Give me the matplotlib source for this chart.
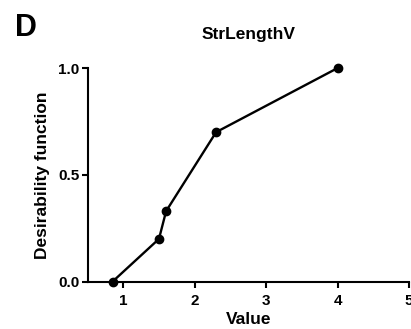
import matplotlib.pyplot as plt

plt.rcParams['font.family'] = ['Liberation Sans', 'DejaVu Sans']
plt.rcParams['font.weight'] = 'bold'

values = [0.85, 1.5, 1.6, 2.3, 4.0]
desirability = [0.0, 0.2, 0.33, 0.7, 1.0]

x_ticks = [1, 2, 3, 4, 5]
y_ticks = [0.0, 0.5, 1.0]

fig = plt.figure(figsize=(4.11, 3.29), dpi=100)
ax = fig.add_axes([0.213, 0.144, 0.782, 0.649])

ax.plot(values, desirability, color='black', lw=1.7, marker='o', markersize=6,
        clip_on=False, zorder=3)

ax.set_xlim(0.5, 5)
ax.set_ylim(0, 1.0)
ax.set_xticks(x_ticks)
ax.set_yticks(y_ticks)
ax.set_yticklabels([f'{v:.1f}' for v in y_ticks])

for side in ['top', 'right']:
    ax.spines[side].set_visible(False)
for side in ['left', 'bottom']:
    ax.spines[side].set_linewidth(1.5)

ax.tick_params(direction='out', length=4, width=1.5, labelsize=11)
ax.tick_params(axis='x', pad=5)
ax.tick_params(axis='y', pad=2)
for lbl in ax.get_xticklabels() + ax.get_yticklabels():
    lbl.set_fontweight('bold')

ax.set_xlabel('Value', fontsize=12.5, fontweight='bold', labelpad=3)
ax.set_ylabel('Desirability function', fontsize=12.5, fontweight='bold', labelpad=6)
ax.set_title('StrLengthV', fontsize=12.5, fontweight='bold', pad=21)

fig.text(0.036, 0.96, 'D', fontsize=22, fontweight='bold', va='top', ha='left')

fig.savefig('out.png', dpi=100)
